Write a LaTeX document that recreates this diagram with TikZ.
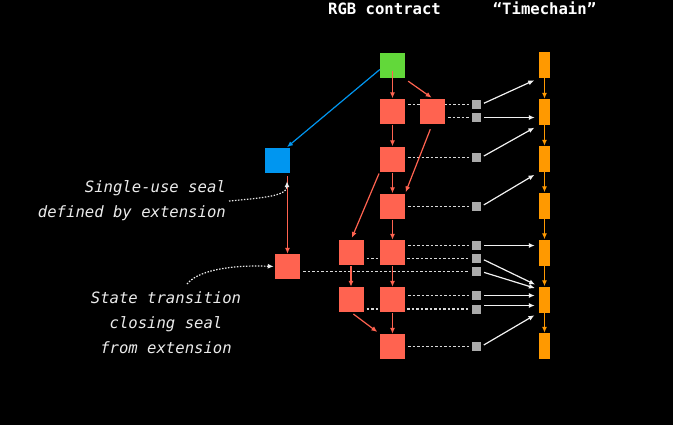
\documentclass[tikz,border=0pt]{standalone}
\usepackage{fontspec}
\setmonofont{DejaVu Sans Mono}
\usepackage{tikz}
\usetikzlibrary{arrows.meta,backgrounds,positioning}

\definecolor{stategreen}{RGB}{98,216,58}
\definecolor{statered}{RGB}{255,99,80}
\definecolor{sealblue}{RGB}{0,150,240}
\definecolor{timeorange}{RGB}{255,153,0}
\definecolor{witnessgray}{RGB}{170,170,170}

\begin{document}
\begin{tikzpicture}[x=1pt, y=-1pt, >={Latex[length=6pt,width=5pt]},
    state/.style={fill=statered, minimum size=25pt, inner sep=0pt},
    witness/.style={fill=witnessgray, minimum size=9pt, inner sep=0pt},
    block/.style={fill=timeorange, minimum width=11pt, minimum height=26pt, inner sep=0pt},
    title/.style={text=white, font=\ttfamily\bfseries\fontsize{15.6}{18}\selectfont, anchor=base},
    note/.style={text=white!92!black, font=\ttfamily\itshape\fontsize{15.6}{25}\selectfont, inner sep=0pt},
    redarrow/.style={->, draw=statered, line width=1.2pt},
    timearrow/.style={->, draw=timeorange, line width=1.2pt},
    anchoring/.style={->, draw=white!95!black, line width=1.2pt},
    sealline/.style={draw=white!85!black, line width=1.2pt, dash pattern=on 2.5pt off 2pt, shorten <=3pt, shorten >=3pt},
    noteline/.style={->, draw=white!92!black, line width=1.2pt, dash pattern=on 1.5pt off 1.5pt}]
    \useasboundingbox (0,0) rectangle (673,424);

    \node[title] (rgb) at (384.5, 14.7) {RGB contract};
    \node[title] (chain) at (544.5, 14.7) {“Timechain”};

    \node[fill=stategreen, minimum size=25pt, inner sep=0pt] (g0) at (392.5, 65.5) {};
    \node[fill=sealblue, minimum size=25pt, inner sep=0pt] (b0) at (277.5, 160.5) {};
    \node[state] (s1) at (392.5, 111) {};
    \node[state] (s2) at (432.5, 111) {};
    \node[state] (s3) at (392.5, 159) {};
    \node[state] (s4) at (392.5, 206) {};
    \node[state] (s5) at (351, 252.5) {};
    \node[state] (s6) at (392.5, 252.5) {};
    \node[state] (s7) at (287.5, 266.5) {};
    \node[state] (s8) at (351, 299.5) {};
    \node[state] (s9) at (392.5, 299.5) {};
    \node[state] (s10) at (392.5, 346.5) {};

    \node[witness] (w1) at (476.5, 104.5) {};
    \node[witness] (w2) at (476.5, 117.5) {};
    \node[witness] (w3) at (476.5, 157.5) {};
    \node[witness] (w4) at (476.5, 206.5) {};
    \node[witness] (w5) at (476.5, 245.5) {};
    \node[witness] (w6) at (476.5, 258.5) {};
    \node[witness] (w7) at (476.5, 271.5) {};
    \node[witness] (w8) at (476.5, 295.5) {};
    \node[witness] (w9) at (476.5, 309) {};
    \node[witness] (w10) at (476.5, 346.5) {};

    \node[block] (t0) at (544.5, 65) {};
    \node[block] (t1) at (544.5, 112) {};
    \node[block] (t2) at (544.5, 159) {};
    \node[block] (t3) at (544.5, 205.5) {};
    \node[block] (t4) at (544.5, 252.5) {};
    \node[block] (t5) at (544.5, 299.5) {};
    \node[block] (t6) at (544.5, 346) {};

    \node[note, align=right, anchor=east] (n1text) at (226, 200.7) {Single-use seal\\defined by extension};
    \node[note, align=center] (n2text) at (166, 322.9) {State transition\\closing seal\\from extension};
    \coordinate (n1) at (229, 201);
    \coordinate (n2) at (187, 284);

    \begin{scope}[on background layer]
    \fill[black] (-3,-3) rectangle (676,427);
    \path
    (s1.east |- w1.west) edge[sealline] (w1.west)
    (s2.east |- w2.west) edge[sealline] (w2.west)
    (s3.east |- w3.west) edge[sealline] (w3.west)
    (s4.east |- w4.west) edge[sealline] (w4.west)
    (s6.east |- w5.west) edge[sealline] (w5.west)
    (s5.east |- w6.west) edge[sealline] (w6.west)
    (s7.east |- w7.west) edge[sealline] (w7.west)
    (s9.east |- w8.west) edge[sealline] (w8.west)
    (s8.east |- w9.west) edge[sealline] (w9.west)
    (s10.east |- w10.west) edge[sealline] (w10.west);
    \end{scope}

    \path
    ([yshift=-5pt]g0.center) edge[redarrow] (s1.north)
    ([xshift=3pt,yshift=-3pt]g0.south east) edge[redarrow, shorten >=1pt] (s2.north)
    (s1) edge[redarrow, shorten <=1pt] (s3)
    (s2.south) edge[redarrow, shorten <=6pt, shorten >=1pt] (s4.north east)
    (s3.south west) edge[redarrow, shorten <=2pt, shorten >=2pt] (s5.north)
    (s3) edge[redarrow, shorten <=1pt] (s4)
    (s4) edge[redarrow, shorten <=1pt] (s6)
    (s5) edge[redarrow, shorten <=1pt] (s8)
    (s6) edge[redarrow, shorten <=1pt] (s9)
    (s9) edge[redarrow, shorten <=1pt] (s10)
    (s8.south) edge[redarrow, shorten <=3pt, shorten >=3pt] (s10.north west)
    (s7.north |- b0.south) edge[redarrow, shorten <=3pt] (s7.north)
    ([yshift=-4pt]g0.west) edge[->, draw=sealblue, line width=1.2pt, shorten >=1pt] ([xshift=-4pt]b0.north east);

    \path
    (t0) edge[timearrow] (t1)
    (t1) edge[timearrow] (t2)
    (t2) edge[timearrow] (t3)
    (t3) edge[timearrow] (t4)
    (t4) edge[timearrow] (t5)
    (t5) edge[timearrow] (t6);

    \path
    (w1.east) edge[anchoring, shorten <=3pt, shorten >=5pt] (t0.south west)
    (w2.east) edge[anchoring, shorten <=3pt, shorten >=4pt] (w2.east -| t1.west)
    (w3.east) edge[anchoring, shorten <=3pt, shorten >=5pt] (t1.south west)
    (w4.east) edge[anchoring, shorten <=3pt, shorten >=5pt] (t2.south west)
    (w5.east) edge[anchoring, shorten <=3pt, shorten >=4pt] (w5.east -| t4.west)
    (w6.east) edge[anchoring, shorten <=3pt, shorten >=4pt] (t5.north west)
    (w7.east) edge[anchoring, shorten <=3pt, shorten >=4pt] ([yshift=-3pt]t5.north west)
    (w8.east) edge[anchoring, shorten <=3pt, shorten >=4pt] (w8.east -| t5.west)
    ([yshift=3.5pt]w9.east) edge[anchoring, shorten <=3pt, shorten >=4pt] ([yshift=3.5pt]w9.east -| t5.west)
    (w10.east) edge[anchoring, shorten <=3pt, shorten >=5pt] (t5.south west);

    \draw[noteline] (n1) .. controls (262, 198) and (287, 196) .. ([xshift=9.5pt, yshift=-8pt]b0.south);
    \draw[noteline] (n2) .. controls (200, 268) and (240, 265) .. ([xshift=-1pt]s7.west);
\end{tikzpicture}
\end{document}
